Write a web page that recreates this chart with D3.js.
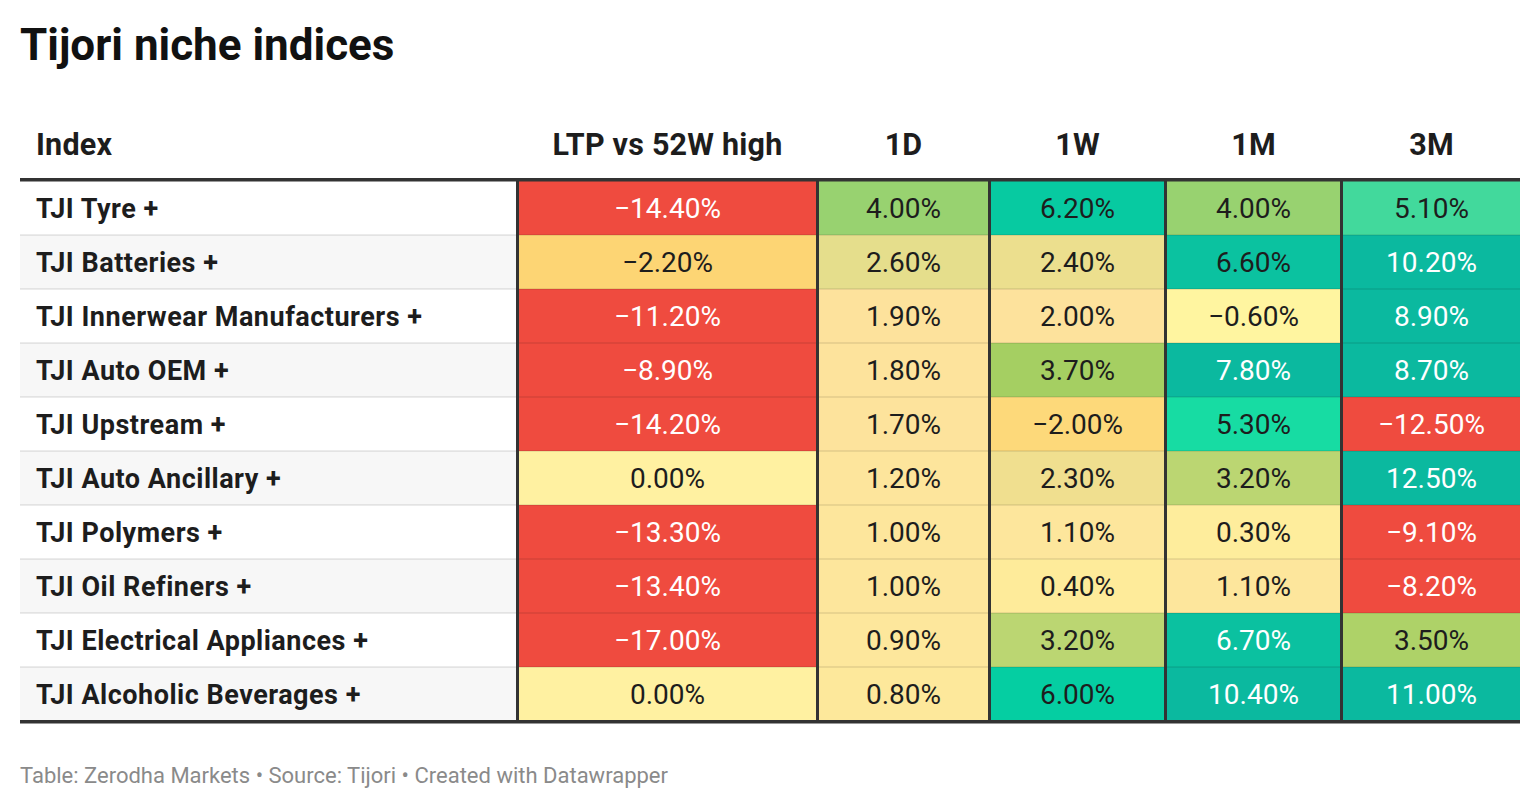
<!DOCTYPE html>
<html>
<head>
<meta charset="utf-8">
<script src="https://cdn.jsdelivr.net/npm/d3@7"></script>
<style>
  html, body { margin: 0; padding: 0; background: #fff; }
  svg { display: block; font-family: Roboto, "Noto Sans", sans-serif; }
</style>
</head>
<body>
<svg id="chart" width="1540" height="810"></svg>
<script>
// ---- data ----
const indices = [
  "TJI Tyre +", "TJI Batteries +", "TJI Innerwear Manufacturers +", "TJI Auto OEM +",
  "TJI Upstream +", "TJI Auto Ancillary +", "TJI Polymers +", "TJI Oil Refiners +",
  "TJI Electrical Appliances +", "TJI Alcoholic Beverages +"
];
const columns = ["LTP vs 52W high", "1D", "1W", "1M", "3M"];
const ltpVs52wHigh = [-14.4, -2.2, -11.2, -8.9, -14.2, 0.0, -13.3, -13.4, -17.0, 0.0];
const oneDay       = [4.0, 2.6, 1.9, 1.8, 1.7, 1.2, 1.0, 1.0, 0.9, 0.8];
const oneWeek      = [6.2, 2.4, 2.0, 3.7, -2.0, 2.3, 1.1, 0.4, 3.2, 6.0];
const oneMonth     = [4.0, 6.6, -0.6, 7.8, 5.3, 3.2, 0.3, 1.1, 6.7, 10.4];
const threeMonth   = [5.1, 10.2, 8.9, 8.7, -12.5, 12.5, -9.1, -8.2, 3.5, 11.0];
const seriesValues = [ltpVs52wHigh, oneDay, oneWeek, oneMonth, threeMonth];

const title = "Tijori niche indices";
const footer = "Table: Zerodha Markets \u2022 Source: Tijori \u2022 Created with Datawrapper";

// ---- layout ----
const W = 1540, H = 810;
const left = 20, right = 1520;
const tableTop = 181, tableBottom = 721;
const colEdges = [20, 516, 816, 988, 1164, 1340, 1520]; // index col + 5 value cols
const lineW = 3;

// color scale (heatmap)
const colorScale = d3.scaleLinear()
  .domain([-5, -2.2, -0.6, 0, 0.4, 1.0, 2.0, 2.3, 2.6, 3.2, 3.7, 4.0, 5.1, 5.3, 6.0, 6.6, 7.5])
  .range(["#ef4b3f", "#fdd574", "#fff5a0", "#fff1a1", "#feeb9a", "#fde69c", "#fde29c", "#f0df8f",
          "#e5de8c", "#bbd672", "#a5cf62", "#98d270", "#42d99c", "#17dca3", "#05cea2", "#0bc2a0", "#0bb99f"])
  .interpolate(d3.interpolateRgb)
  .clamp(true);
const textColor = v => (v <= -5 || v >= 6.7) ? "#ffffff" : "#1d1d1d";
const fmt = v => (v < 0 ? "\u2212" : "") + Math.abs(v).toFixed(2) + "%";

const svg = d3.select("#chart");

const y = d3.scaleBand().domain(d3.range(indices.length)).range([tableTop, tableBottom]).paddingInner(0);
const colX = d3.scaleOrdinal().domain(d3.range(columns.length + 1)).range(colEdges.slice(0, -1));
const colW = i => colEdges[i + 1] - colEdges[i];

// title
svg.append("text")
  .attr("x", left).attr("y", 60)
  .attr("font-size", 44).attr("font-weight", 700).attr("fill", "#111")
  .text(title);

// header
const headers = ["Index"].concat(columns);
svg.append("g").selectAll("text").data(headers).join("text")
  .attr("x", (d, i) => i === 0 ? 36 : colX(i) + lineW / 2 + colW(i) / 2)
  .attr("y", 155)
  .attr("text-anchor", (d, i) => i === 0 ? "start" : "middle")
  .attr("font-size", 30.5).attr("font-weight", 700).attr("fill", "#1d1d1d")
  .attr("letter-spacing", 0.2)
  .text(d => d);

// index column backgrounds
svg.append("g").selectAll("rect").data(indices).join("rect")
  .attr("x", left).attr("width", colEdges[1] - left)
  .attr("y", (d, i) => y(i)).attr("height", y.bandwidth())
  .attr("fill", (d, i) => i % 2 ? "#f7f7f7" : "#ffffff");

// value cells
const cells = [];
seriesValues.forEach((vals, c) => vals.forEach((v, r) => cells.push({c: c + 1, r, v})));
svg.append("g").selectAll("rect").data(cells).join("rect")
  .attr("x", d => colX(d.c)).attr("width", d => colW(d.c))
  .attr("y", d => y(d.r)).attr("height", y.bandwidth())
  .attr("fill", d => colorScale(d.v));

// row separators
svg.append("g").selectAll("rect").data(d3.range(1, indices.length)).join("rect")
  .attr("x", left).attr("width", right - left)
  .attr("y", d => y(d) - 1).attr("height", 2)
  .attr("fill", "rgba(0,0,0,0.08)");

// row labels
svg.append("g").selectAll("text").data(indices).join("text")
  .attr("x", 36)
  .attr("y", (d, i) => y(i) + y.bandwidth() / 2 + 9.5)
  .attr("font-size", 27).attr("font-weight", 700).attr("fill", "#1d1d1d")
  .attr("letter-spacing", 0.5)
  .text(d => d);

// cell values
svg.append("g").selectAll("text").data(cells).join("text")
  .attr("x", d => colX(d.c) + lineW / 2 + colW(d.c) / 2)
  .attr("y", d => y(d.r) + y.bandwidth() / 2 + 10)
  .attr("text-anchor", "middle")
  .attr("font-size", 28).attr("font-weight", 400)
  .attr("fill", d => textColor(d.v))
  .text(d => fmt(d.v));

// vertical dark lines
svg.append("g").selectAll("rect").data(d3.range(1, columns.length + 1)).join("rect")
  .attr("x", d => colX(d)).attr("width", lineW)
  .attr("y", tableTop - 1).attr("height", tableBottom - tableTop + 1)
  .attr("fill", "#333");

// header line & bottom line
svg.append("rect").attr("x", left).attr("width", right - left).attr("y", 178).attr("height", 3.5).attr("fill", "#333");
svg.append("rect").attr("x", left).attr("width", right - left).attr("y", 720).attr("height", 3.5).attr("fill", "#333");

// footer
svg.append("text")
  .attr("x", left).attr("y", 783)
  .attr("font-size", 22).attr("fill", "#8a8a8a")
  .text(footer);
</script>
</body>
</html>
